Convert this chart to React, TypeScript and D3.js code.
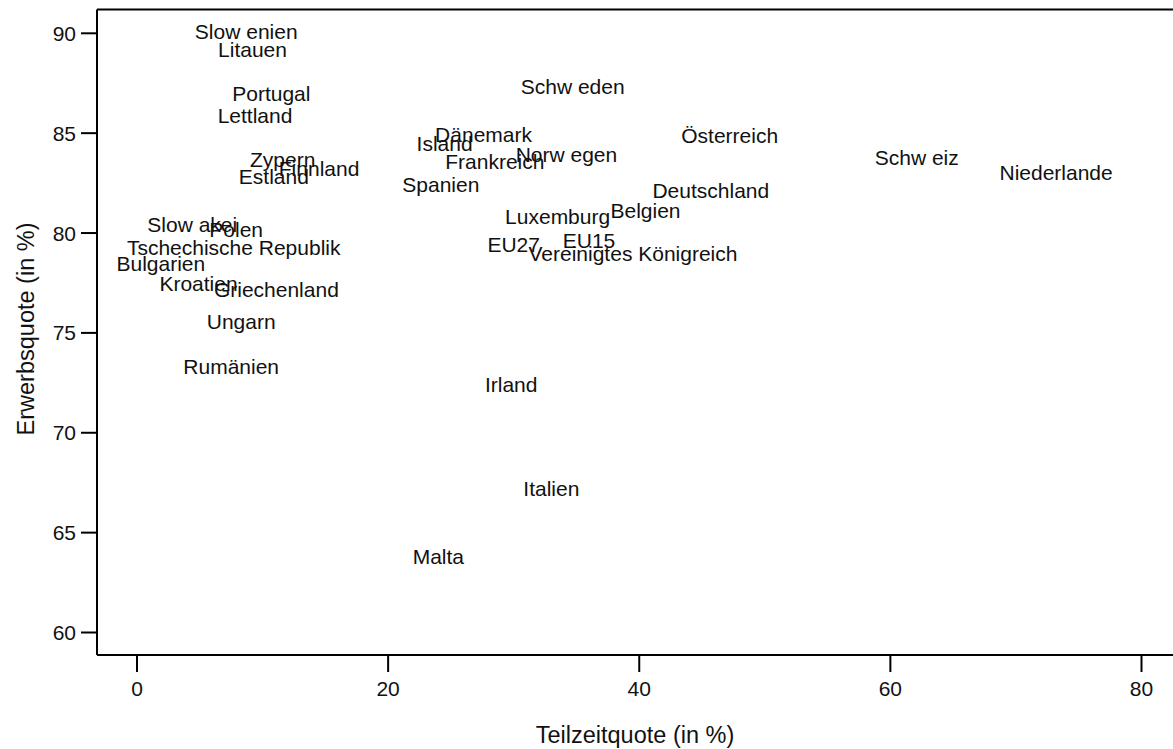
import React from "react";
import * as d3 from "d3";

const countries = [
  "Slow enien", "Litauen", "Portugal", "Lettland", "Zypern", "Finnland", "Estland",
  "Slow akei", "Polen", "Tschechische Republik", "Bulgarien", "Kroatien", "Griechenland",
  "Ungarn", "Rumänien", "Schw eden", "Dänemark", "Island", "Frankreich", "Norw egen",
  "Spanien", "Österreich", "Deutschland", "Luxemburg", "Belgien", "EU27", "EU15",
  "Vereinigtes Königreich", "Schw eiz", "Niederlande", "Irland", "Italien", "Malta",
];
const teilzeit = [
  8.7, 9.2, 10.7, 9.4, 11.6, 14.5, 10.9,
  4.4, 7.9, 7.7, 1.9, 4.9, 11.1,
  8.3, 7.5, 34.7, 27.6, 24.5, 28.5, 34.2,
  24.2, 47.2, 45.7, 33.5, 40.5, 30.0, 36.0,
  39.5, 62.1, 73.2, 29.8, 33.0, 24.0,
];
const erwerb = [
  90.1, 89.2, 87.0, 85.9, 83.7, 83.25, 82.85,
  80.45, 80.2, 79.3, 78.5, 77.5, 77.2,
  75.55, 73.3, 87.35, 84.95, 84.5, 83.6, 83.95,
  82.45, 84.9, 82.15, 80.85, 81.15, 79.45, 79.65,
  79.0, 83.8, 83.05, 72.4, 67.2, 63.8,
];
const xTicks = [0, 20, 40, 60, 80];
const yTicks = [60, 65, 70, 75, 80, 85, 90];

const W = 1173;
const H = 749;
const FONT = "'Liberation Sans', Arial, Helvetica, sans-serif";

export default function App() {
  const x = d3.scaleLinear().domain([0, 80]).range([137, 1141.5]);
  const y = d3.scaleLinear().domain([60, 90]).range([632.5, 33.3]);
  const left = 97;
  const top = 9.5;
  const bottom = 655;
  const right = W + 2;
  const pts = countries.map((c, i) => ({ c, x: teilzeit[i], y: erwerb[i] }));
  return (
    <svg
      width={W}
      height={H}
      style={{ position: "absolute", left: 0, top: 0, background: "#fff" }}
      fontFamily={FONT}
    >
      <rect x={0} y={0} width={W} height={H} fill="#fff" />
      {/* frame */}
      <line x1={left} y1={top} x2={right} y2={top} stroke="#000" strokeWidth={2} />
      <line x1={left} y1={top} x2={left} y2={bottom} stroke="#000" strokeWidth={2} />
      <line x1={left} y1={bottom} x2={right} y2={bottom} stroke="#000" strokeWidth={2} />
      {/* x axis */}
      {xTicks.map((t) => (
        <g key={"x" + t}>
          <line x1={x(t)} x2={x(t)} y1={bottom} y2={bottom + 17} stroke="#000" strokeWidth={2} />
          <text x={x(t)} y={bottom + 40.5} textAnchor="middle" fontSize={21} fill="#111">
            {t}
          </text>
        </g>
      ))}
      {/* y axis */}
      {yTicks.map((t) => (
        <g key={"y" + t}>
          <line x1={left - 16} x2={left} y1={y(t)} y2={y(t)} stroke="#000" strokeWidth={2} />
          <text x={76} y={y(t)} dy="0.36em" textAnchor="end" fontSize={21} fill="#111">
            {t}
          </text>
        </g>
      ))}
      <text x={635} y={735} dy="0.36em" textAnchor="middle" fontSize={23.5} fill="#111">
        Teilzeitquote (in %)
      </text>
      <text
        transform={`translate(26,329) rotate(-90)`}
        dy="0.36em"
        textAnchor="middle"
        fontSize={23.5}
        fill="#111"
      >
        Erwerbsquote (in %)
      </text>
      {pts.map((p) => (
        <text
          key={p.c}
          x={x(p.x)}
          y={y(p.y)}
          dy="0.36em"
          textAnchor="middle"
          fontSize={21}
          fill="#111"
        >
          {p.c}
        </text>
      ))}
    </svg>
  );
}
